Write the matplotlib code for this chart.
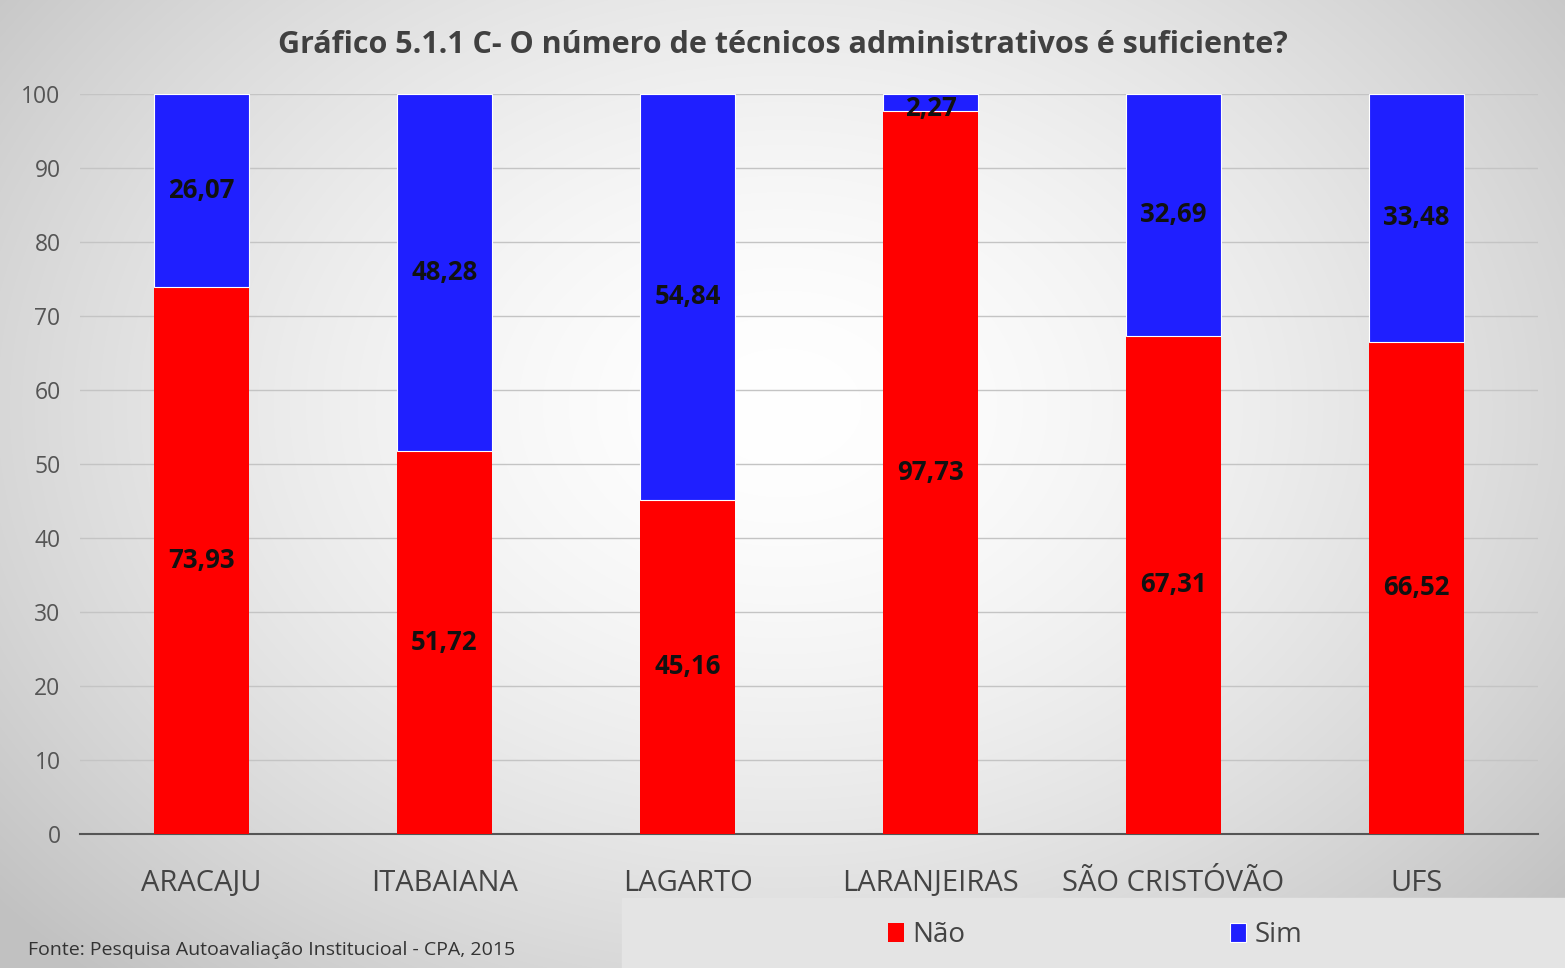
import matplotlib.pyplot as plt
import numpy as np
from matplotlib.patches import Rectangle

plt.rcParams['font.family'] = ['Open Sans', 'DejaVu Sans']

campi = ['ARACAJU', 'ITABAIANA', 'LAGARTO', 'LARANJEIRAS', 'SÃO CRISTÓVÃO', 'UFS']
nao = [73.93, 51.72, 45.16, 97.73, 67.31, 66.52]
sim = [26.07, 48.28, 54.84, 2.27, 32.69, 33.48]
nao_lbl = ['73,93', '51,72', '45,16', '97,73', '67,31', '66,52']
sim_lbl = ['26,07', '48,28', '54,84', '2,27', '32,69', '33,48']

W, H = 1565, 968
fig = plt.figure(figsize=(W / 100, H / 100), dpi=100)

# fundo com gradiente radial
bg = fig.add_axes([0, 0, 1, 1], zorder=-10)
yy, xx = np.mgrid[0:H, 0:W]
r = np.sqrt(((xx - W * 0.5) / (W * 0.62)) ** 2 + ((yy - H * 0.42) / (H * 0.75)) ** 2)
g = np.clip(1.0 - 0.22 * r ** 1.6, 0.76, 1.0)
bg.imshow(np.dstack([g, g, g]), extent=[0, W, H, 0], aspect='auto')
bg.add_patch(Rectangle((622, 898), W - 622, 70, color='#e4e4e4', zorder=2))
bg.set_xlim(0, W)
bg.set_ylim(H, 0)
bg.axis('off')

ax = fig.add_axes([80 / W, 1 - 834 / H, (1538 - 80) / W, (834 - 94) / H])
ax.patch.set_alpha(0)
x = np.arange(len(campi))
bw = 0.395
b1 = ax.bar(x, nao, bw, color='#ff0000', label='Não', zorder=3)
b2 = ax.bar(x, sim, bw, bottom=nao, color='#1f1fff', label='Sim', zorder=3,
            edgecolor='white', linewidth=0.8)

for i in range(len(campi)):
    ax.text(x[i], nao[i] / 2, nao_lbl[i], ha='center', va='center',
            fontsize=18.5, fontweight='bold', color='#111111', zorder=5)
    ax.text(x[i], nao[i] + sim[i] / 2 if sim[i] > 5 else nao[i] + 0.3, sim_lbl[i],
            ha='center', va='center', fontsize=18.5, fontweight='bold', color='#111111', zorder=5)

ax.set_xlim(-0.5, len(campi) - 0.5)
ax.set_ylim(0, 100)
ax.set_yticks(np.arange(0, 101, 10))
ax.yaxis.grid(True, color='#c4c4c4', linewidth=1)
ax.set_axisbelow(True)
for s in ['top', 'right', 'left']:
    ax.spines[s].set_visible(False)
ax.spines['bottom'].set_color('#555555')
ax.spines['bottom'].set_linewidth(1.5)
ax.tick_params(axis='both', length=0)
ax.tick_params(axis='y', labelsize=16.5, labelcolor='#555555', pad=14)
ax.tick_params(axis='x', labelsize=21, labelcolor='#444444', pad=25)
ax.set_xticks(x)
ax.set_xticklabels(campi)

fig.text(0.5, 1 - 45 / H, 'Gráfico 5.1.1 C- O número de técnicos administrativos é suficiente?',
         ha='center', va='center', fontsize=22, fontweight='bold', color='#404040')
fig.text(28 / W, 1 - 950 / H, 'Fonte: Pesquisa Autoavaliação Institucioal - CPA, 2015',
         ha='left', va='center', fontsize=14, color='#333333')

fig.legend(handles=[b1, b2], loc='center', bbox_to_anchor=(1095 / W, 1 - 935 / H),
           ncol=2, frameon=False, fontsize=20, handlelength=0.6, handleheight=0.7,
           handletextpad=0.3, columnspacing=9.5, labelcolor='#444444')

fig.savefig('out.png', dpi=100)
